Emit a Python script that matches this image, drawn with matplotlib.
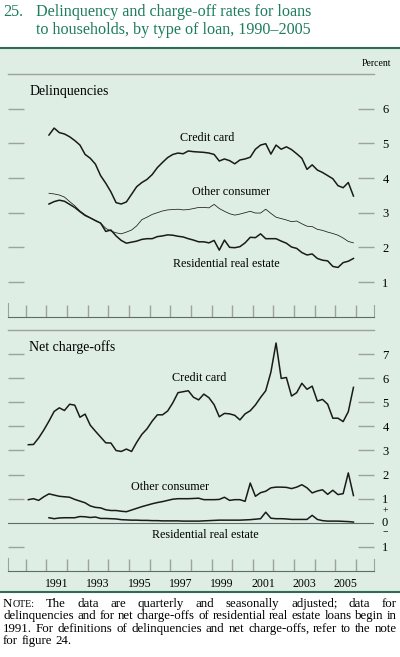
#===============================================================
#  Delinquency and charge-off rates for loans to households
#  two stacked panels, quarterly data 1990-2005
#...............................................................

import numpy as np
import matplotlib
matplotlib.use("Agg")
import matplotlib.pyplot as plt
import matplotlib.transforms as mtrans
from matplotlib.patches import Rectangle
from matplotlib.lines import Line2D

plt.rcParams["font.family"] = ["Liberation Serif", "DejaVu Serif"]

#...............................................................
# data (percent, quarterly)

# delinquencies, 1991Q1 - 2005Q4
dlq_credit = [5.24, 5.44, 5.31, 5.27, 5.19, 5.08, 4.95, 4.68, 4.57, 4.40,
              4.07, 3.85, 3.60, 3.29, 3.25, 3.31, 3.53, 3.75, 3.87, 3.96,
              4.10, 4.30, 4.45, 4.59, 4.68, 4.72, 4.70, 4.78, 4.76, 4.75,
              4.74, 4.72, 4.68, 4.49, 4.55, 4.50, 4.41, 4.52, 4.55, 4.60,
              4.83, 4.95, 4.99, 4.69, 4.95, 4.83, 4.90, 4.82, 4.70, 4.57,
              4.25, 4.38, 4.23, 4.16, 4.07, 3.98, 3.78, 3.72, 3.87, 3.48]
dlq_other = [3.56, 3.54, 3.51, 3.45, 3.32, 3.20, 3.05, 2.94, 2.85, 2.78,
             2.70, 2.55, 2.47, 2.42, 2.39, 2.44, 2.50, 2.62, 2.80, 2.87,
             2.95, 3.00, 3.05, 3.08, 3.09, 3.10, 3.08, 3.09, 3.12, 3.15,
             3.15, 3.14, 3.24, 3.12, 3.04, 2.97, 2.93, 2.96, 3.00, 3.04,
             2.99, 2.99, 3.10, 2.98, 2.87, 2.83, 2.79, 2.74, 2.76, 2.68,
             2.61, 2.60, 2.52, 2.49, 2.44, 2.40, 2.35, 2.27, 2.17, 2.13]
dlq_resid = [3.25, 3.32, 3.36, 3.33, 3.24, 3.15, 3.03, 2.92, 2.85, 2.77,
             2.70, 2.46, 2.50, 2.33, 2.20, 2.12, 2.15, 2.18, 2.23, 2.25,
             2.25, 2.31, 2.33, 2.36, 2.35, 2.32, 2.30, 2.25, 2.21, 2.16,
             2.16, 2.13, 2.20, 1.92, 2.21, 2.00, 1.99, 2.02, 2.13, 2.29,
             2.28, 2.39, 2.25, 2.25, 2.25, 2.18, 2.12, 2.01, 1.97, 1.85,
             1.78, 1.81, 1.68, 1.63, 1.61, 1.45, 1.42, 1.56, 1.60, 1.68]

# net charge-offs, credit card and other consumer from 1990Q1
nco_credit = [3.24, 3.25, 3.52, 3.85, 4.22, 4.62, 4.77, 4.66, 4.92, 4.88,
              4.38, 4.51, 4.05, 3.80, 3.56, 3.32, 3.31, 3.00, 2.96, 3.06,
              2.96, 3.34, 3.67, 3.90, 4.22, 4.48, 4.48, 4.64, 4.98, 5.40,
              5.44, 5.48, 5.21, 5.10, 5.34, 5.19, 4.90, 4.40, 4.54, 4.52,
              4.46, 4.27, 4.52, 4.65, 4.89, 5.20, 5.48, 6.25, 7.46, 5.99,
              6.03, 5.26, 5.40, 5.79, 5.54, 5.67, 5.05, 5.12, 4.92, 4.34,
              4.34, 4.20, 4.61, 5.62]
nco_other = [0.96, 1.00, 0.93, 1.08, 1.20, 1.15, 1.10, 1.08, 1.06, 0.97,
             0.90, 0.83, 0.70, 0.64, 0.62, 0.54, 0.51, 0.51, 0.48, 0.46,
             0.53, 0.60, 0.67, 0.73, 0.79, 0.84, 0.88, 0.93, 0.98, 1.00,
             1.00, 1.00, 1.01, 1.02, 0.96, 0.96, 0.96, 0.97, 1.06, 0.93,
             0.96, 0.96, 0.89, 1.65, 1.10, 1.25, 1.31, 1.45, 1.48, 1.48,
             1.47, 1.42, 1.48, 1.58, 1.45, 1.24, 1.32, 1.37, 1.18, 1.35,
             1.17, 1.21, 2.07, 1.13]
# residential real estate from 1991Q1
nco_resid = [0.21, 0.17, 0.20, 0.21, 0.21, 0.21, 0.26, 0.25, 0.22, 0.24,
             0.18, 0.18, 0.17, 0.16, 0.13, 0.12, 0.11, 0.11, 0.10, 0.10,
             0.09, 0.09, 0.08, 0.08, 0.08, 0.08, 0.07, 0.07, 0.07, 0.07,
             0.08, 0.09, 0.10, 0.11, 0.11, 0.11, 0.11, 0.11, 0.12, 0.13,
             0.15, 0.17, 0.44, 0.19, 0.17, 0.17, 0.16, 0.14, 0.14, 0.14,
             0.14, 0.31, 0.14, 0.09, 0.07, 0.07, 0.07, 0.06, 0.05, 0.03]

year_ticks = list(range(1990, 2007))
year_labels = [str(y) for y in range(1991, 2006, 2)]

# quarters plotted at mid-quarter
t91 = 1991 + (np.arange(len(dlq_credit)) + 0.5) / 4
t90 = 1990 + (np.arange(len(nco_credit)) + 0.5) / 4

#...............................................................
# figure layout, in pixels of a 400 x 657 picture
W, H = 400, 657
def fx(x): return x / W
def fy(y): return 1 - y / H

ink = "#1a1a1a"
teal = "#1d7c5f"
gray = "#a0a0a0"
axis_col = "#5e6e66"

fig = plt.figure(figsize=(W / 100, H / 100), dpi=100)
fig.patches.append(Rectangle((0, fy(592)), 1, fy(48) - fy(592),
                             transform=fig.transFigure, facecolor="#deeee5",
                             edgecolor="none", zorder=-5))
for yy in (48, 592):
    fig.lines.append(Line2D([0, 1], [fy(yy)] * 2, transform=fig.transFigure,
                            color="#2f6b55", lw=1.5, zorder=-4))

# title
fig.text(fx(3), fy(16), "25.", color=teal, fontsize=11.6, va="baseline")
fig.text(fx(36), fy(16), "Delinquency and charge-off rates for loans",
         color=teal, fontsize=11.6, va="baseline")
fig.text(fx(36), fy(34), "to households, by type of loan, 1990\u20132005",
         color=teal, fontsize=11.6, va="baseline")
fig.text(fx(391), fy(63), "Percent", fontsize=7, ha="right", va="center")

x_left, x_right = 8, 374
ax1 = fig.add_axes([fx(x_left), fy(316.7), fx(x_right - x_left), (316.7 - 74) / H])
ax2 = fig.add_axes([fx(x_left), fy(571), fx(x_right - x_left), (571 - 330) / H])

for ax in (ax1, ax2):
    ax.set_facecolor("none")
    ax.set_xlim(1989.14, 2006.87)
    ax.set_xticks(year_ticks)
    ax.tick_params(axis="x", which="major", direction="in", length=8.5,
                   width=1.0, color=gray, labelbottom=False)
    ax.tick_params(axis="y", direction="in", length=11.5, width=1.0,
                   color=gray, left=True, right=True, labelleft=False,
                   labelright=True, labelsize=9, pad=6)
    ax.spines["top"].set_color(gray)
    ax.spines["top"].set_linewidth(1.0)
    ax.spines["bottom"].set_color(axis_col)
    ax.spines["bottom"].set_linewidth(0.8)
    for s in ("left", "right"):
        ax.spines[s].set_color(gray)

#...............................................................
# delinquencies
ax1.set_ylim(0, 7)
ax1.set_yticks([1, 2, 3, 4, 5, 6])
ax1.spines["left"].set_bounds(0, 0.4)
ax1.spines["right"].set_bounds(0, 0.35)
ax1.plot(t91, dlq_credit, color=ink, lw=1.1)
ax1.plot(t91, dlq_other, color=ink, lw=0.55)
ax1.plot(t91, dlq_resid, color=ink, lw=1.1)
ax1.text(1990.17, 6.49, "Delinquencies", fontsize=10, va="center")
ax1.text(1998.77, 5.16, "Credit card", fontsize=8.7, ha="center", va="center")
ax1.text(1999.95, 3.59, "Other consumer", fontsize=8.7, ha="center", va="center")
ax1.text(1999.70, 1.52, "Residential real estate", fontsize=8.7,
         ha="center", va="center")

#...............................................................
# net charge-offs
ax2.set_ylim(-2, 8)
ax2.set_yticks([-1, 1, 2, 3, 4, 5, 6, 7])
ax2.set_yticklabels(["1", "1", "2", "3", "4", "5", "6", "7"])
ax2.spines["left"].set_bounds(-2, -1.45)
ax2.spines["right"].set_bounds(-2, -1.5)
ax2.axhline(0, color=axis_col, lw=0.8)
ax2.plot(t90, nco_credit, color=ink, lw=1.1)
ax2.plot(t90, nco_other, color=ink, lw=1.1)
ax2.plot(t91, nco_resid, color=ink, lw=1.1)
ax2.text(1990.17, 7.30, "Net charge-offs", fontsize=10, va="center")
ax2.text(1998.38, 6.02, "Credit card", fontsize=8.7, ha="center", va="center")
ax2.text(1996.97, 1.49, "Other consumer", fontsize=8.7, ha="center", va="center")
ax2.text(1998.70, -0.52, "Residential real estate", fontsize=8.7,
         ha="center", va="center")

# zero label with signs
tr = mtrans.blended_transform_factory(fig.transFigure, ax2.transData)
ax2.text(fx(385), 0.0, "0", transform=tr, fontsize=9, ha="center", va="center")
ax2.text(fx(385), 0.50, "+", transform=tr, fontsize=7, ha="center", va="center")
ax2.text(fx(385), -0.42, "\u2212", transform=tr, fontsize=7, ha="center", va="center")

# year labels between the ticks
ax2.set_xticks([int(s) + 0.5 for s in year_labels], minor=True)
ax2.set_xticklabels(year_labels, minor=True)
ax2.tick_params(axis="x", which="minor", length=0, labelbottom=True,
                labelsize=8.5, pad=5)

#...............................................................
# justified note below the box
note_lines = ["NOTE: The data are quarterly and seasonally adjusted; data for",
              "delinquencies and for net charge-offs of residential real estate loans begin in",
              "1991. For definitions of delinquencies and net charge-offs, refer to the note",
              "for figure 24."]
note_base = [607, 619, 632, 644]

renderer = fig.canvas.get_renderer()
# size the note so the tightest line fills the width
probe = fig.text(0, 0, note_lines[1], fontsize=8.0)
note_size = 8.0 * 394 / probe.get_window_extent(renderer).width
probe.remove()

for k, (line, yb) in enumerate(zip(note_lines, note_base)):
    groups = []
    for w in line.split(" "):
        if w == "NOTE:":
            pieces = [("N", note_size), ("OTE:", note_size * 0.78)]
        else:
            pieces = [(w, note_size)]
        arts = [fig.text(0, fy(yb), s, fontsize=fs, va="baseline") for s, fs in pieces]
        widths = [a.get_window_extent(renderer).width for a in arts]
        groups.append((arts, widths))
    total = sum(sum(ws) for _, ws in groups)
    if k < len(note_lines) - 1:
        gap = (397 - 3 - total) / (len(groups) - 1)
    else:
        gap = note_size * 0.25 * 100 / 72
    x = 3
    for arts, ws in groups:
        for a, w in zip(arts, ws):
            a.set_x(fx(x))
            x += w
        x += gap

fig.savefig("out.png", dpi=100)
